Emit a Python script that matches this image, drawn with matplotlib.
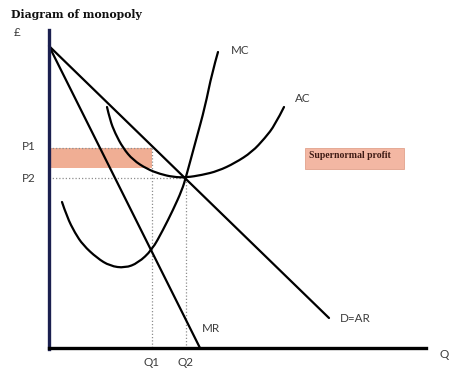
import matplotlib
matplotlib.use('Agg')
import matplotlib.pyplot as plt
from matplotlib.patches import Rectangle, PathPatch
from matplotlib.path import Path

# demand (= AR) and marginal revenue, straight lines (q, price)
d_q = [0, 280]
d_p = [302, 30]
mr_q = [0, 151]
mr_p = [302, 0]

# marginal cost curve
mc_q = [13, 18, 26, 34, 48, 61, 76, 89, 103, 114, 124, 133, 137, 147, 156, 163, 169]
mc_p = [146, 131, 115, 103, 90, 82, 80, 85, 98, 118, 138, 158, 171, 208, 241, 275, 296]

# average cost curve
ac_q = [58, 61, 66, 74, 84, 98, 111, 124, 137, 153, 169, 186, 203, 216, 226, 235]
ac_p = [241, 228, 215, 200, 188, 179, 174, 171, 170.5, 173, 177, 185, 196, 210, 223, 241]

Q1, Q2 = 103, 137
P1, P2 = 200, 170
rect_bottom = 180


def smooth_curve(ax, xs, ys, **kw):
    # quadratic bezier pieces: read points are the control points,
    # each piece ends half-way to the next point
    pts = list(zip(xs, ys))
    verts = [pts[0]]
    codes = [Path.MOVETO]
    for i in range(1, len(pts) - 1):
        mid = ((pts[i][0] + pts[i + 1][0]) / 2, (pts[i][1] + pts[i + 1][1]) / 2)
        if i == len(pts) - 2:
            mid = pts[-1]
        verts += [pts[i], mid]
        codes += [Path.CURVE3, Path.CURVE3]
    ax.add_patch(PathPatch(Path(verts, codes), fill=False, **kw))


fig = plt.figure(figsize=(4.74, 3.73), dpi=100)
ax = fig.add_axes([0, 0, 1, 1])
ax.set_xlim(-49, 425)
ax.set_ylim(-25, 348)
ax.axis('off')

lab = dict(family='Lato', fontsize=8.4, color='#3c3c3c')
dots = dict(color='#8e8e8e', lw=0.9, ls=(0, (1, 1.6)), zorder=2)

# supernormal profit area
ax.add_patch(Rectangle((2, rect_bottom), Q1 - 2, P1 - rect_bottom,
                       facecolor='#f0ae94', edgecolor='none', zorder=1))
ax.plot([0, Q1], [P1, P1], **dots)
ax.plot([Q1, Q1], [P1, 0], **dots)
ax.plot([0, Q2], [P2, P2], **dots)
ax.plot([Q2, Q2], [P2, 0], **dots)

ax.plot(d_q, d_p, color='black', lw=1.6, solid_capstyle='round', zorder=3)
ax.plot(mr_q, mr_p, color='black', lw=1.6, solid_capstyle='round', zorder=3)
smooth_curve(ax, mc_q, mc_p, edgecolor='black', lw=1.6, capstyle='round', zorder=3)
smooth_curve(ax, ac_q, ac_p, edgecolor='black', lw=1.6, capstyle='round', zorder=3)

# axes
ax.plot([0, 0], [-1, 318], color='#1b1f4f', lw=2.4, zorder=4)
ax.plot([0, 377], [0, 0], color='black', lw=2.4, zorder=4)

ax.text(-38, 334, 'Diagram of monopoly', family='DejaVu Serif', fontweight='bold',
        fontsize=7.8, color='#111111', va='center', ha='left')
ax.text(-32, 316, '£', ha='center', va='center', **lab)
ax.text(182, 297, 'MC', ha='left', va='center', **lab)
ax.text(246, 249, 'AC', ha='left', va='center', **lab)
ax.text(-27, 201, 'P1', ha='left', va='center', **lab)
ax.text(-27, 169, 'P2', ha='left', va='center', **lab)
ax.text(153, 20, 'MR', ha='left', va='center', **lab)
ax.text(291, 30, 'D=AR', ha='left', va='center', **lab)
ax.text(Q1, -14, 'Q1', ha='center', va='center', **lab)
ax.text(Q2, -14, 'Q2', ha='center', va='center', **lab)
ax.text(395, -7, 'Q', ha='center', va='center', **lab)

ax.add_patch(Rectangle((256, 179), 99, 21, facecolor='#f3b7a3',
                       edgecolor='#e2a28c', lw=0.6, zorder=1))
ax.text(260, 193, 'Supernormal profit', family='Liberation Serif', fontweight='bold',
        fontsize=7, color='#3e1a14', ha='left', va='center')

fig.savefig('out.png', dpi=100)
